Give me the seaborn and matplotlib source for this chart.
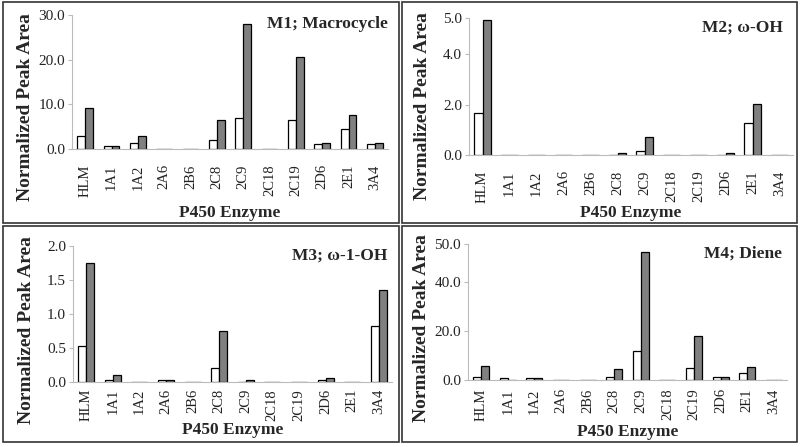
import matplotlib
matplotlib.use("Agg")
import matplotlib.pyplot as plt
import seaborn as sns
import pandas as pd
from matplotlib.patches import Rectangle

enzymes = ["HLM", "1A1", "1A2", "2A6", "2B6", "2C8", "2C9", "2C18", "2C19", "2D6", "2E1", "3A4"]
series = ["A", "B"]

m1_white = [2.9, 0.6, 1.4, 0, 0, 2.0, 6.9, 0, 6.5, 1.1, 4.4, 1.1]
m1_grey = [9.1, 0.6, 2.9, 0, 0, 6.5, 27.9, 0, 20.7, 1.4, 7.5, 1.4]

m2_white = [1.67, 0, 0, 0, 0, 0, 0.17, 0, 0, 0, 1.27, 0]
m2_grey = [5.36, 0, 0, 0, 0, 0.08, 0.73, 0, 0, 0.08, 2.04, 0]

m3_white = [0.53, 0.03, 0, 0.03, 0, 0.20, 0, 0, 0, 0.03, 0, 0.82]
m3_grey = [1.75, 0.11, 0, 0.03, 0, 0.75, 0.03, 0, 0, 0.06, 0, 1.35]

m4_white = [1.2, 0.7, 0.9, 0, 0, 1.2, 12.0, 0, 5.0, 1.2, 2.7, 0]
m4_grey = [5.7, 0, 0.9, 0, 0, 4.3, 52.3, 0, 18.1, 1.2, 5.1, 0]

titles = ["M1; Macrocycle", "M2; ω-OH", "M3; ω-1-OH", "M4; Diene"]
ytick_vals = [[0, 10, 20, 30], [0, 2, 4, 5.45], [0, 0.5, 1.0, 1.5, 2.0], [0, 20, 40, 55.4]]
ytick_text = [["0.0", "10.0", "20.0", "30.0"], ["0.0", "2.0", "4.0", "5.0"],
              ["0.0", "0.5", "1.0", "1.5", "2.0"], ["0.0", "20.0", "40.0", "50.0"]]

panels = [(m1_white, m1_grey), (m2_white, m2_grey), (m3_white, m3_grey), (m4_white, m4_grey)]

# axes rectangles in pixels: left, top, right, bottom
W, H = 800, 447
boxes_px = [(72, 15, 388, 149), (469, 18, 793, 155), (73, 246, 392, 382), (468, 244, 787, 380)]
tick_pad = [11, 11, 5, 6]
xlabel_below = [64, 58, 48, 52]     # px from axis to xlabel centre
ylabel_centre = [0.31, 0.36, 0.38, 0.38]
title_x = [1.0, 0.97, 0.985, 0.985]

sns.set_style("white")
plt.rcParams["font.family"] = ["Liberation Serif", "DejaVu Serif"]

fig = plt.figure(figsize=(8, 4.47), dpi=100)

# panel borders
for (x0, y0, x1, y1) in [(3, 2, 399, 223), (402, 2, 797, 223), (3, 226, 399, 442), (402, 226, 797, 442)]:
    fig.add_artist(Rectangle((x0 / W, 1 - y1 / H), (x1 - x0) / W, (y1 - y0) / H,
                             transform=fig.transFigure, fill=False, edgecolor="#333333", lw=1.2))

for i, (white, grey) in enumerate(panels):
    l, t, r, b = boxes_px[i]
    ax = fig.add_axes([l / W, 1 - b / H, (r - l) / W, (b - t) / H])
    df = pd.DataFrame({
        "Enzyme": enzymes * 2,
        "Series": [series[0]] * len(enzymes) + [series[1]] * len(enzymes),
        "Value": list(white) + list(grey),
    })
    sns.barplot(data=df, x="Enzyme", y="Value", hue="Series", order=enzymes,
                palette=["white", "#808080"], edgecolor="black", linewidth=0.9,
                width=0.6, legend=False, ax=ax)
    ax.set_xlim(-0.5, len(enzymes) - 0.5)
    ax.set_ylim(0, ytick_vals[i][-1])
    ax.set_yticks(ytick_vals[i])
    ax.set_yticklabels(ytick_text[i], fontsize=11, color="#222222")
    ax.set_xticks(range(len(enzymes)))
    ax.set_xticklabels(enzymes, rotation=90, fontsize=10.5, color="#222222")
    ax.set_xticks([k - 0.5 for k in range(len(enzymes) + 1)], minor=True)
    ax.tick_params(axis="x", which="major", length=0, pad=tick_pad[i])
    ax.tick_params(axis="x", which="minor", length=7, color="#bbbbbb", width=0.8)
    ax.tick_params(axis="y", length=3, color="#bbbbbb", width=0.8, pad=2, left=True)
    for s in ["top", "right"]:
        ax.spines[s].set_visible(False)
    for s in ["left", "bottom"]:
        ax.spines[s].set_color("#bbbbbb")
        ax.spines[s].set_linewidth(0.8)
    ax.set_ylabel("Normalized Peak Area", fontsize=14, fontweight="bold")
    ax.yaxis.set_label_coords(-38 / (r - l), ylabel_centre[i])
    ax.set_xlabel("P450 Enzyme", fontsize=12.5, fontweight="bold", va="center")
    ax.xaxis.set_label_coords(0.5, -xlabel_below[i] / (b - t))
    ax.text(title_x[i], 0.93, titles[i], transform=ax.transAxes, ha="right", va="center",
            fontsize=12.5, fontweight="bold")

fig.savefig("out.png", dpi=100)
